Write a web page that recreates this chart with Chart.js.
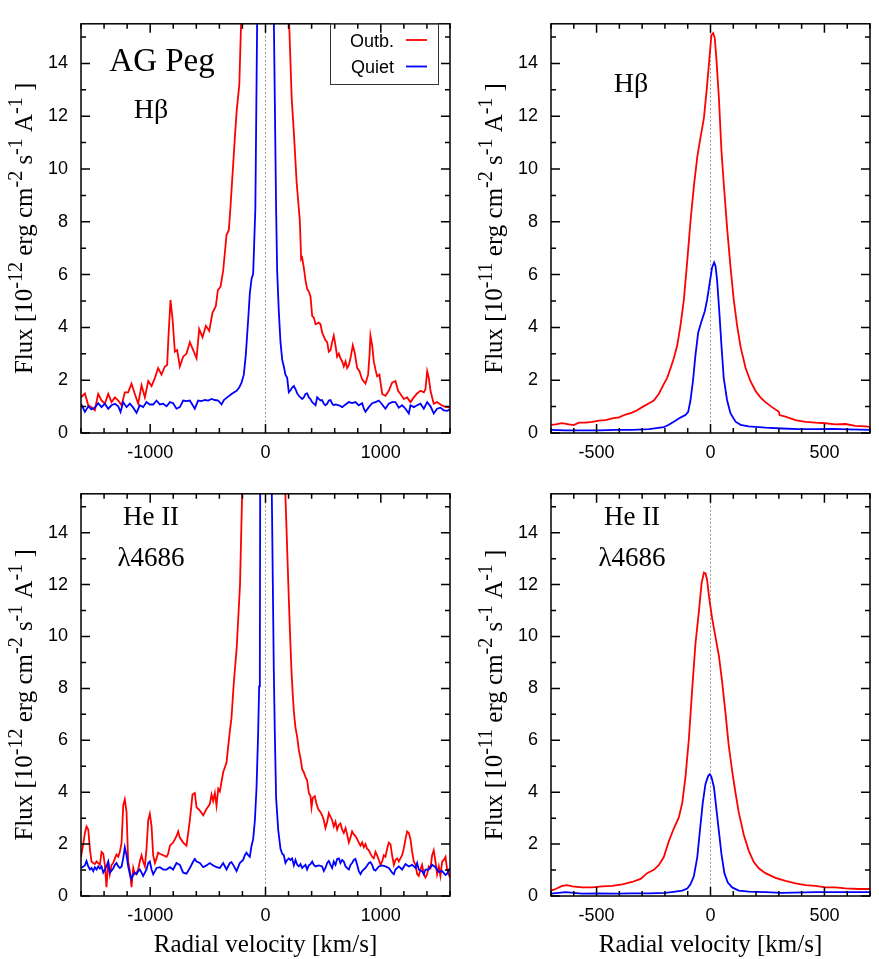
<!DOCTYPE html>
<html lang="en">
<head>
  <meta charset="UTF-8" />
  <title>AG Peg | H-beta and He II line profiles</title>
  <script src="https://cdn.jsdelivr.net/npm/chart.js"></script>
  <style>
    body { margin: 0; background: #fff; }
    #wrap { position: relative; width: 879px; height: 959px; }
    #wrap canvas { position: absolute; }
  </style>
</head>
<body>
  <div id="wrap"></div>

  <script>
    // tick values
    const wideTicks = [-1000, 0, 1000];
    const wideMinor = [-1600, -1400, -1200, -1000, -800, -600, -400, -200, 0, 200, 400, 600, 800, 1000, 1200, 1400, 1600];
    const narrowTicks = [-500, 0, 500];
    const narrowMinor = [-700, -600, -500, -400, -300, -200, -100, 0, 100, 200, 300, 400, 500, 600, 700];
    const yTicks = [0, 2, 4, 6, 8, 10, 12, 14];
    const yMinor = [0, 1, 2, 3, 4, 5, 6, 7, 8, 9, 10, 11, 12, 13, 14, 15];

    // H-beta, wide window (flux 1e-12)
    const hbWideOutbV = [-1600,-1566,-1537,-1509,-1480,-1451,-1422,-1393,-1364,-1335,-1306,-1277,-1248,-1220,-1191,-1162,-1133,-1104,-1075,-1046,-1017,-988,-959,-931,-902,-873,-853,-841,-824,-806,-786,-766,-743,-714,-685,-656,-627,-598,-575,-546,-517,-488,-460,-431,-413,-390,-367,-338,-318,-303,-264,-250,-227,-210,0,203,227,247,270,287,297,303,309,318,332,347,361,376,390,405,419,434,462,477,491,520,535,549,564,578,592,607,621,636,650,665,679,694,708,723,737,757,775,795,815,838,867,890,902,910,925,939,954,968,988,1012,1040,1069,1098,1127,1150,1170,1199,1228,1257,1286,1315,1344,1373,1387,1402,1416,1431,1445,1459,1488,1517,1546,1575,1600];
    const hbWideOutbF = [1.35,1.50,1.05,0.98,0.86,1.48,1.23,1.11,1.48,1.17,1.35,1.23,1.05,1.54,1.54,1.87,1.48,1.11,1.81,1.35,1.97,1.78,2.09,2.46,2.21,2.52,2.58,3.69,5.04,4.31,3.08,3.14,2.52,2.89,3.01,3.44,3.14,2.83,3.94,3.63,4.06,3.87,4.55,4.80,5.41,5.54,6.15,7.50,7.69,8.61,11.3,12.2,13.2,15.8,50,15.8,12.7,11.3,9.5,8.6,8.1,7.38,6.58,6.64,6.27,5.78,5.47,5.35,5.17,4.43,4.37,4.12,4.18,4.12,3.81,3.51,3.44,3.08,3.14,3.44,3.69,3.32,2.89,3.01,2.83,2.71,2.52,2.71,2.46,2.58,2.83,3.32,3.01,2.46,2.34,2.03,1.87,2.21,2.95,3.69,3.32,2.71,2.40,2.15,2.21,1.48,1.41,1.60,1.91,1.97,1.60,1.48,1.29,1.35,1.17,1.35,1.50,1.60,1.54,1.66,2.34,2.09,1.60,1.35,1.11,1.17,1.08,1.01,0.98,0.96];
    const hbWideQuietV = [-1600,-1566,-1537,-1509,-1480,-1451,-1422,-1393,-1364,-1335,-1306,-1277,-1257,-1234,-1205,-1176,-1147,-1118,-1090,-1061,-1032,-1003,-974,-945,-916,-887,-858,-829,-801,-772,-743,-714,-685,-656,-613,-584,-555,-526,-497,-468,-439,-410,-381,-361,-332,-295,-251,-228,-208,-188,-171,-150,-136,-121,-107,-88,-72,0,72,92,101,116,130,145,159,173,188,202,217,231,246,260,275,289,303,318,332,347,361,376,390,405,419,434,448,462,477,491,506,520,535,549,564,578,592,607,636,665,694,723,751,780,809,838,853,867,896,925,954,983,1012,1040,1069,1098,1127,1156,1185,1214,1243,1257,1286,1315,1344,1373,1402,1431,1459,1488,1517,1546,1575,1600];
    const hbWideQuietF = [1.11,0.80,1.01,0.89,0.96,1.13,0.98,1.11,0.92,1.05,1.11,1.01,0.80,1.17,0.98,1.11,0.96,0.76,1.05,0.98,1.17,1.08,1.08,1.23,1.08,1.11,1.01,1.17,1.13,0.92,0.98,1.23,1.21,1.23,0.92,1.23,1.21,1.25,1.23,1.29,1.25,1.23,1.08,1.25,1.35,1.48,1.60,1.72,1.91,2.21,2.95,4.31,5.29,5.84,6.03,8.5,15.8,30,15.8,8.5,6.15,4.55,3.44,2.77,2.52,2.21,2.09,1.54,1.62,1.72,1.78,1.66,1.50,1.41,1.35,1.29,1.35,1.48,1.50,1.35,1.29,1.17,1.11,1.05,1.35,1.29,1.23,1.25,1.11,1.05,1.11,1.23,1.25,1.11,1.05,1.08,1.05,0.98,1.08,1.17,1.13,1.17,1.05,1.13,0.92,0.80,0.98,1.13,1.17,1.23,1.08,0.92,1.11,1.17,1.17,0.96,1.05,0.92,0.74,1.05,0.98,1.05,1.11,0.92,1.17,1.01,0.74,0.92,0.96,0.86,0.84,0.89];

    // He II 4686, wide window (flux 1e-12)
    const heWideOutbV = [-1600,-1581,-1566,-1552,-1537,-1523,-1509,-1494,-1480,-1465,-1451,-1436,-1422,-1407,-1393,-1379,-1364,-1350,-1335,-1321,-1306,-1292,-1277,-1263,-1248,-1234,-1220,-1205,-1191,-1176,-1162,-1147,-1133,-1118,-1104,-1090,-1075,-1061,-1046,-1032,-1017,-1003,-988,-974,-959,-945,-931,-916,-887,-858,-844,-829,-801,-772,-757,-743,-714,-685,-656,-633,-613,-598,-569,-540,-512,-483,-468,-454,-439,-425,-410,-396,-367,-338,-324,-309,-295,-286,-275,-266,-250,-221,-201,0,170,198,212,225,237,246,260,275,289,303,318,332,347,361,376,390,399,410,428,439,457,477,491,506,520,535,549,564,578,592,607,621,636,650,665,679,694,708,723,737,751,766,780,795,809,824,838,853,867,881,896,910,925,939,954,968,983,997,1012,1026,1040,1055,1069,1084,1098,1113,1127,1142,1156,1170,1185,1199,1214,1228,1243,1257,1272,1286,1301,1315,1329,1344,1358,1373,1387,1402,1416,1431,1445,1459,1474,1488,1503,1517,1532,1546,1561,1575,1600];
    const heWideOutbF = [1.51,2.00,2.43,2.68,2.56,1.82,1.33,1.27,1.23,1.33,1.27,1.20,1.70,1.63,1.20,0.34,1.33,0.84,1.20,1.27,1.45,1.60,1.51,1.70,2.06,3.48,3.72,3.23,1.33,0.96,0.34,1.08,0.84,0.90,1.02,1.33,1.57,1.33,1.14,1.82,2.92,3.17,2.68,1.57,1.27,1.45,1.67,1.63,1.57,1.51,1.63,1.94,2.06,2.31,2.49,2.25,2.06,1.94,2.92,3.91,3.97,3.42,3.29,3.11,3.35,3.54,3.91,3.66,3.97,3.48,4.13,4.03,4.77,5.14,5.75,6.36,6.86,7.47,8.21,8.70,9.55,12.0,15.8,50,15.8,12.0,10.2,8.70,7.71,7.10,6.49,6.12,5.63,5.32,4.89,4.77,4.58,4.46,3.97,3.85,3.42,3.78,3.85,3.60,3.35,3.23,3.11,2.92,2.62,2.86,3.19,3.05,2.92,2.68,2.86,2.56,2.74,2.80,2.56,2.43,2.62,2.37,2.06,2.25,2.49,2.37,2.31,2.19,2.06,1.94,2.06,1.88,2.00,1.82,1.76,1.63,1.51,1.45,1.70,1.57,1.39,1.20,1.33,1.57,1.51,1.82,2.06,2.00,1.57,1.20,1.39,1.45,1.33,1.45,1.57,1.82,2.19,2.49,2.43,2.19,1.70,1.33,1.20,0.84,0.77,1.02,1.20,0.84,0.71,0.84,1.14,1.08,1.57,1.76,1.33,0.84,1.14,0.77,1.33,1.39,1.51,1.02,0.71];
    const heWideQuietV = [-1600,-1566,-1552,-1537,-1523,-1509,-1494,-1480,-1465,-1451,-1436,-1422,-1407,-1393,-1379,-1364,-1350,-1335,-1321,-1306,-1292,-1277,-1263,-1248,-1234,-1220,-1205,-1191,-1176,-1162,-1147,-1133,-1118,-1104,-1090,-1075,-1061,-1046,-1032,-1017,-1003,-988,-974,-959,-945,-916,-887,-858,-829,-801,-772,-743,-714,-685,-656,-627,-613,-598,-569,-540,-512,-483,-454,-425,-396,-367,-338,-309,-295,-280,-251,-223,-194,-179,-165,-150,-136,-121,-107,-92,-78,-64,-55,-49,-46,0,54,72,81,92,110,130,145,159,173,188,202,217,231,246,260,275,289,303,318,332,347,361,376,390,405,419,434,462,491,506,520,535,549,564,578,592,607,621,636,650,665,679,694,708,723,737,751,766,780,795,809,824,838,867,896,910,925,939,954,968,983,1012,1040,1069,1098,1113,1127,1156,1185,1214,1243,1272,1301,1315,1329,1358,1373,1387,1416,1445,1474,1503,1532,1561,1575,1600];
    const heWideQuietF = [1.08,1.18,1.35,1.14,1.02,1.08,0.96,1.11,1.02,1.14,1.06,1.14,0.90,1.02,1.14,1.33,0.90,0.98,1.06,1.20,1.27,1.14,1.08,1.14,1.45,1.88,1.57,1.14,0.84,0.65,0.84,0.90,0.84,0.96,1.02,0.90,0.77,0.90,1.02,1.27,1.33,1.02,0.84,0.96,1.08,1.11,1.02,1.02,1.11,1.02,1.27,1.20,0.90,0.86,1.08,1.33,1.43,1.33,1.27,1.11,1.18,1.27,1.18,1.11,1.08,1.27,1.02,1.27,1.30,1.20,0.96,1.27,1.39,1.57,1.67,1.57,1.51,1.94,2.19,2.92,4.15,6.24,8.08,8.70,15.8,30,15.8,8.70,6.24,3.78,2.56,1.82,1.63,1.57,1.27,1.39,1.45,1.39,1.45,1.18,1.39,1.20,1.14,1.23,1.08,1.14,1.20,1.02,1.18,1.23,1.33,1.20,1.14,1.18,1.14,0.96,1.08,1.27,1.35,1.20,1.08,1.33,1.20,1.43,1.45,1.27,1.39,1.33,1.14,1.08,1.02,1.20,1.27,1.39,1.43,1.20,0.96,0.84,0.96,1.08,1.27,1.30,1.20,1.02,0.98,1.06,1.14,1.18,1.14,1.08,0.90,0.84,1.02,1.14,1.02,1.23,1.14,1.20,1.08,1.27,1.02,0.96,0.84,1.02,1.02,1.20,1.11,0.93,0.96,0.81,0.86,1.08];

    // H-beta, narrow window (flux 1e-11)
    const hbNarrowOutbV = [-700,-680,-651,-622,-600,-578,-549,-519,-490,-461,-431,-402,-373,-344,-322,-300,-270,-249,-227,-205,-190,-175,-161,-146,-132,-117,-102,-88,-73,-58,-44,-29,-15,-4,4,12,19,26,37,48,58,73,88,102,117,132,154,175,197,219,241,270,300,303,329,373,417,461,504,548,592,636,680,700];
    const hbNarrowOutbF = [0.31,0.33,0.37,0.33,0.30,0.39,0.39,0.42,0.47,0.49,0.55,0.59,0.70,0.77,0.86,0.98,1.13,1.23,1.48,1.85,2.09,2.46,2.83,3.32,4.06,5.04,6.52,8.00,9.35,10.46,11.19,11.93,13.16,14.27,15.07,15.15,14.94,14.15,12.67,10.70,9.47,7.75,6.27,5.04,4.06,3.26,2.46,1.97,1.60,1.35,1.17,0.98,0.80,0.68,0.62,0.49,0.42,0.39,0.37,0.33,0.34,0.27,0.25,0.23];
    const hbNarrowQuietV = [-700,-636,-563,-490,-417,-344,-270,-205,-183,-161,-139,-124,-110,-98,-88,-77,-66,-54,-39,-25,-15,-4,7,16,22,29,39,48,58,73,88,110,132,168,241,314,387,461,534,607,700];
    const hbNarrowQuietF = [0.12,0.10,0.10,0.10,0.12,0.12,0.15,0.22,0.31,0.43,0.55,0.62,0.68,0.80,1.23,1.97,2.95,3.81,4.24,4.61,5.04,5.66,6.27,6.46,6.33,5.78,4.55,3.32,2.09,1.23,0.74,0.43,0.31,0.25,0.20,0.17,0.15,0.15,0.16,0.14,0.12];

    // He II 4686, narrow window (flux 1e-11)
    const heNarrowOutbV = [-700,-680,-651,-629,-607,-563,-519,-475,-431,-387,-344,-307,-278,-249,-227,-205,-183,-161,-139,-124,-110,-95,-80,-66,-51,-39,-29,-22,-15,-7,7,22,37,51,66,80,95,110,124,146,168,190,212,241,285,329,373,417,461,504,548,592,651,700];
    const heNarrowOutbF = [0.21,0.27,0.39,0.42,0.37,0.33,0.33,0.37,0.39,0.45,0.54,0.66,0.88,1.01,1.19,1.50,2.11,2.60,3.03,3.59,4.57,6.04,8.01,9.73,10.96,12.06,12.46,12.43,12.19,11.57,10.71,9.98,9.24,8.26,7.03,5.80,4.82,3.96,3.22,2.36,1.74,1.31,1.07,0.88,0.70,0.58,0.49,0.42,0.39,0.33,0.33,0.29,0.27,0.27];
    const heNarrowQuietV = [-700,-636,-563,-490,-417,-344,-270,-197,-154,-124,-102,-88,-73,-58,-44,-34,-22,-10,-3,4,15,26,37,48,61,76,95,124,168,241,314,461,607,700];
    const heNarrowQuietF = [0.09,0.15,0.09,0.10,0.09,0.10,0.10,0.12,0.17,0.21,0.29,0.45,0.76,1.50,2.73,3.59,4.32,4.63,4.69,4.59,4.20,3.34,2.48,1.62,0.88,0.52,0.33,0.21,0.17,0.15,0.12,0.15,0.15,0.15];

    const serif = "'Liberation Serif', 'Times New Roman', serif";
    Chart.defaults.font.family = "'Liberation Sans', Arial, sans-serif";
    Chart.defaults.color = '#000';

    const panels = [
      { left: 0, top: 0, w: 460, h: 470, area: [81, 13, 450, 433], xr: [-1600, 1600], major: wideTicks, minor: wideMinor, exp: '-12',
        outb: [hbWideOutbV, hbWideOutbF], quiet: [hbWideQuietV, hbWideQuietF],
        labels: [['AG Peg', 33, 162, 71], ['H\u03b2', 28, 151, 118]], legend: true },
      { left: 460, top: 0, w: 419, h: 470, area: [91, 13, 410, 433], xr: [-700, 700], major: narrowTicks, minor: narrowMinor, exp: '-11',
        outb: [hbNarrowOutbV, hbNarrowOutbF], quiet: [hbNarrowQuietV, hbNarrowQuietF],
        labels: [['H\u03b2', 28, 171, 92]] },
      { left: 0, top: 470, w: 460, h: 489, area: [81, 5, 450, 426], xr: [-1600, 1600], major: wideTicks, minor: wideMinor, exp: '-12',
        outb: [heWideOutbV, heWideOutbF], quiet: [heWideQuietV, heWideQuietF],
        labels: [['He II', 27, 151, 55], ['\u03bb4686', 27, 151, 96]], xTitle: true },
      { left: 460, top: 470, w: 419, h: 489, area: [91, 5, 410, 426], xr: [-700, 700], major: narrowTicks, minor: narrowMinor, exp: '-11',
        outb: [heNarrowOutbV, heNarrowOutbF], quiet: [heNarrowQuietV, heNarrowQuietF],
        labels: [['He II', 27, 172, 55], ['\u03bb4686', 27, 172, 96]], xTitle: true }
    ];

    function pts(v, f) {
      return v.map((x, i) => ({ x, y: f[i] }));
    }

    function drawYTitle(ctx, x, yMid, exp) {
      const parts = [['Flux [10', 0], [exp, 1], [' erg cm', 0], ['-2', 1], [' s', 0], ['-1', 1], [' A', 0], ['-1', 1], [' ]', 0]];
      const main = '25px ' + serif, sup = '20px ' + serif;
      let total = 0;
      parts.forEach(([t, s]) => { ctx.font = s ? sup : main; total += ctx.measureText(t).width; });
      ctx.save();
      ctx.translate(x, yMid);
      ctx.rotate(-Math.PI / 2);
      ctx.textAlign = 'left';
      ctx.textBaseline = 'alphabetic';
      ctx.fillStyle = '#000';
      let cx = -total / 2;
      parts.forEach(([t, s]) => {
        ctx.font = s ? sup : main;
        ctx.fillText(t, cx, s ? -10 : 0);
        cx += ctx.measureText(t).width;
      });
      ctx.restore();
    }

    function framePlugin(p) {
      return {
        id: 'frame',
        beforeDatasetsDraw(chart) {
          const { ctx, chartArea: a, scales: { x } } = chart;
          const px = x.getPixelForValue(0);
          ctx.save();
          ctx.strokeStyle = '#999';
          ctx.lineWidth = 1;
          ctx.setLineDash([2, 2]);
          ctx.beginPath();
          ctx.moveTo(px, a.top);
          ctx.lineTo(px, a.bottom);
          ctx.stroke();
          ctx.restore();
        },
        afterDraw(chart) {
          const { ctx, chartArea: a, scales: { x, y } } = chart;
          ctx.save();
          ctx.strokeStyle = '#000';
          ctx.lineWidth = 1.5;
          ctx.strokeRect(a.left, a.top, a.right - a.left, a.bottom - a.top);

          // inward ticks on all four sides
          ctx.beginPath();
          p.minor.forEach(v => {
            const len = p.major.includes(v) ? 9 : 5;
            const px = x.getPixelForValue(v);
            ctx.moveTo(px, a.bottom); ctx.lineTo(px, a.bottom - len);
            ctx.moveTo(px, a.top); ctx.lineTo(px, a.top + len);
          });
          yMinor.forEach(v => {
            const len = yTicks.includes(v) ? 9 : 5;
            const py = y.getPixelForValue(v);
            ctx.moveTo(a.left, py); ctx.lineTo(a.left + len, py);
            ctx.moveTo(a.right, py); ctx.lineTo(a.right - len, py);
          });
          ctx.stroke();

          ctx.fillStyle = '#000';
          ctx.textAlign = 'center';
          ctx.textBaseline = 'alphabetic';
          p.labels.forEach(([t, size, lx, ly]) => {
            ctx.font = size + 'px ' + serif;
            ctx.fillText(t, lx, ly);
          });

          drawYTitle(ctx, p.area[0] - 49, (a.top + a.bottom) / 2, p.exp);

          if (p.xTitle) {
            ctx.font = '25px ' + serif;
            ctx.textAlign = 'center';
            ctx.fillText('Radial velocity [km/s]', (a.left + a.right) / 2, 482);
          }

          if (p.legend) {
            ctx.lineWidth = 1;
            ctx.strokeStyle = '#333';
            ctx.strokeRect(330.5, 23.5, 108, 61);
            ctx.font = '18px ' + Chart.defaults.font.family;
            ctx.textAlign = 'right';
            ctx.fillText('Outb.', 394, 47);
            ctx.fillText('Quiet', 394, 73);
            ctx.lineWidth = 1.8;
            ctx.strokeStyle = '#ff0000';
            ctx.beginPath(); ctx.moveTo(406, 40); ctx.lineTo(427, 40); ctx.stroke();
            ctx.strokeStyle = '#0000ff';
            ctx.beginPath(); ctx.moveTo(406, 66.5); ctx.lineTo(427, 66.5); ctx.stroke();
          }
          ctx.restore();
        }
      };
    }

    const wrap = document.getElementById('wrap');
    panels.forEach(p => {
      const cv = document.createElement('canvas');
      cv.width = p.w;
      cv.height = p.h;
      cv.style.left = p.left + 'px';
      cv.style.top = p.top + 'px';
      cv.style.width = p.w + 'px';
      cv.style.height = p.h + 'px';
      wrap.appendChild(cv);

      new Chart(cv, {
        type: 'line',
        data: {
          datasets: [
            { label: 'Quiet', data: pts(p.quiet[0], p.quiet[1]), borderColor: '#0000ff' },
            { label: 'Outb.', data: pts(p.outb[0], p.outb[1]), borderColor: '#ff0000' }
          ]
        },
        options: {
          responsive: false,
          animation: false,
          events: [],
          datasets: { line: { borderWidth: 1.8, pointRadius: 0, tension: 0, fill: false } },
          layout: { padding: { left: 0, top: p.area[1], right: p.w - p.area[2], bottom: 0 } },
          plugins: { legend: { display: false }, tooltip: { enabled: false } },
          scales: {
            x: {
              type: 'linear',
              min: p.xr[0],
              max: p.xr[1],
              grid: { display: false, drawTicks: false },
              border: { display: false },
              afterBuildTicks: s => { s.ticks = p.major.map(value => ({ value })); },
              afterFit: s => { s.height = p.h - p.area[3]; },
              ticks: { font: { size: 18 }, padding: 9, maxRotation: 0, autoSkip: false, callback: v => String(v) }
            },
            y: {
              min: 0,
              max: 15.5,
              grid: { display: false, drawTicks: false },
              border: { display: false },
              afterBuildTicks: s => { s.ticks = yTicks.map(value => ({ value })); },
              afterFit: s => { s.width = p.area[0]; },
              ticks: { font: { size: 18 }, padding: 13, autoSkip: false, callback: v => String(v) }
            }
          }
        },
        plugins: [framePlugin(p)]
      });
    });
  </script>
</body>
</html>
